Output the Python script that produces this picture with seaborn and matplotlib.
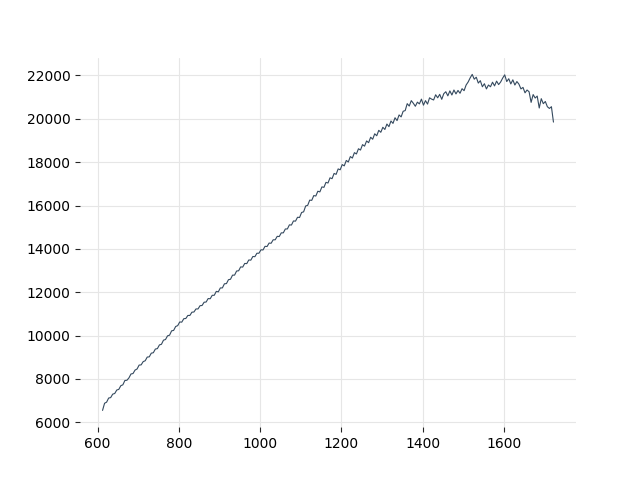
import matplotlib
matplotlib.use("Agg")
import matplotlib.pyplot as plt
import seaborn as sns
import pandas as pd

x_start, x_stop, x_step = 612, 1723, 5
x_values = list(range(x_start, x_stop, x_step))

y_values = [
    6550, 6880, 6930, 7120, 7140, 7300, 7330, 7490, 7520, 7690,
    7730, 7930, 7940, 8050, 8230, 8250, 8410, 8460, 8640, 8650,
    8800, 8840, 9010, 9020, 9190, 9210, 9380, 9400, 9570, 9600,
    9790, 9820, 9990, 10020, 10220, 10240, 10420, 10460, 10630, 10620,
    10780, 10790, 10930, 10930, 11080, 11090, 11230, 11230, 11380, 11390,
    11540, 11550, 11710, 11700, 11860, 11860, 12040, 12020, 12200, 12200,
    12390, 12400, 12580, 12600, 12790, 12790, 12980, 12990, 13170, 13160,
    13330, 13320, 13490, 13480, 13650, 13640, 13800, 13800, 13960, 13950,
    14120, 14110, 14270, 14260, 14420, 14420, 14580, 14570, 14740, 14740,
    14920, 14920, 15110, 15100, 15290, 15280, 15460, 15450, 15680, 15710,
    15980, 16010, 16250, 16240, 16460, 16440, 16660, 16630, 16860, 16840,
    17070, 17040, 17280, 17240, 17480, 17440, 17690, 17650, 17890, 17830,
    18080, 18010, 18260, 18190, 18440, 18380, 18620, 18560, 18810, 18740,
    18980, 18900, 19150, 19060, 19310, 19220, 19470, 19380, 19610, 19510,
    19760, 19640, 19900, 19790, 20050, 19920, 20180, 20090, 20350, 20380,
    20700, 20590, 20840, 20720, 20580, 20770, 20690, 20910, 20630, 20840,
    20680, 20970, 20910, 20870, 21110, 20970, 21130, 20900, 21160, 21250,
    21060, 21290, 21100, 21330, 21150, 21310, 21180, 21390, 21300, 21560,
    21700, 21890, 22050, 21830, 21920, 21650, 21760, 21480, 21620, 21380,
    21560, 21480, 21690, 21520, 21740, 21580, 21700, 21880, 22030, 21720,
    21850, 21610, 21800, 21560, 21720, 21600, 21380, 21450, 21200, 21330,
    21250, 20760, 21120, 20960, 21050, 20500, 20930, 20700, 20800, 20560,
    20480, 20560, 19850,
]

df = pd.DataFrame({"x": x_values, "y": y_values})

sns.set_style("whitegrid", {
    "grid.color": "#e6e6e6",
    "xtick.bottom": True,
    "ytick.left": True,
    "xtick.color": "black",
    "ytick.color": "black",
    "text.color": "black",
})

fig, ax = plt.subplots(figsize=(6.4, 4.8), dpi=100)
sns.lineplot(data=df, x="x", y="y", ax=ax, color="#34495e", linewidth=0.8)
ax.set_xlabel("")
ax.set_ylabel("")
ax.tick_params(axis="both", length=3.5, width=0.8, color="#262626", labelsize=10)
sns.despine(ax=ax, left=True, bottom=True)
fig.savefig("out.png", dpi=100)
